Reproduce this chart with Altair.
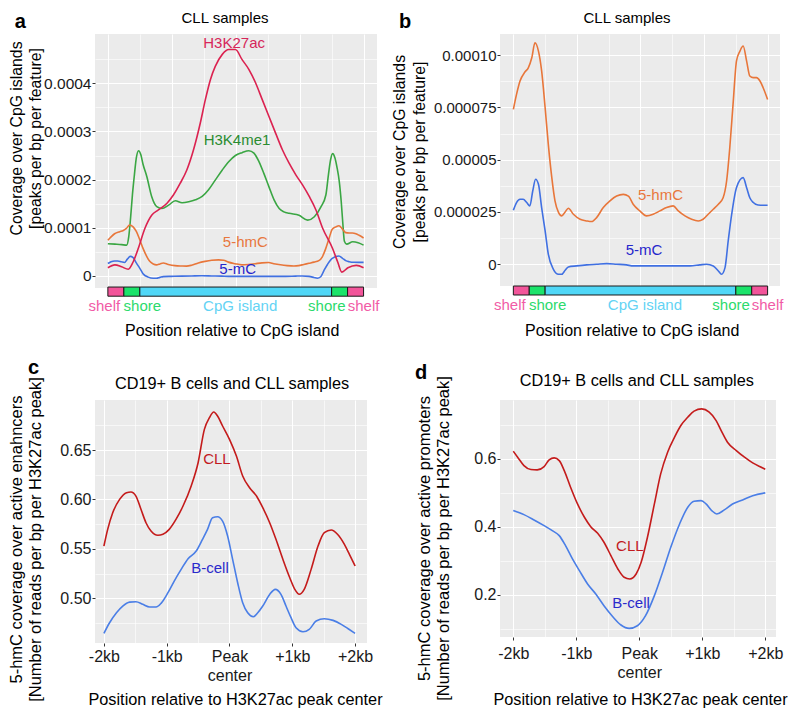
import altair as alt
import pandas as pd

FONT = "Liberation Sans"

# ---------------------------------------------------------------- data
# Panels a/b: position across the CpG-island feature
# (0-0.5 shelf | 0.5-1 shore | 1-7 CpG island | 7-7.5 shore | 7.5-8 shelf)
h3k27ac_pos = [0.00, 0.22, 0.43, 0.64, 0.79, 0.95, 1.16, 1.37, 1.58, 1.85,
               2.05, 2.26, 2.47, 2.68, 2.89, 3.05, 3.21, 3.36, 3.58, 3.78,
               3.99, 4.20, 4.41, 4.62, 4.83, 5.04, 5.25, 5.46, 5.67, 5.88,
               6.09, 6.30, 6.51, 6.72, 7.03, 7.19, 7.32, 7.51, 7.77, 8.00]
h3k27ac_cov = [0.17e-4, 0.23e-4, 0.19e-4, 0.14e-4, 0.29e-4, 0.57e-4, 0.99e-4, 1.26e-4, 1.37e-4, 1.51e-4,
               1.68e-4, 1.92e-4, 2.20e-4, 2.62e-4, 3.17e-4, 3.66e-4, 4.08e-4, 4.35e-4, 4.60e-4, 4.70e-4,
               4.70e-4, 4.49e-4, 4.29e-4, 4.01e-4, 3.66e-4, 3.31e-4, 2.96e-4, 2.62e-4, 2.34e-4, 2.10e-4,
               1.89e-4, 1.65e-4, 1.37e-4, 0.99e-4, 0.57e-4, 0.29e-4, 0.08e-4, 0.17e-4, 0.22e-4, 0.17e-4]

h3k4me1_pos = [0.00, 0.22, 0.43, 0.59, 0.65, 0.71, 0.77, 0.83, 0.89, 0.96,
               1.03, 1.10, 1.22, 1.37, 1.53, 1.69, 1.90, 2.11, 2.32, 2.53,
               2.74, 2.95, 3.15, 3.36, 3.58, 3.78, 3.99, 4.20, 4.41, 4.57,
               4.73, 4.88, 5.04, 5.20, 5.36, 5.51, 5.67, 5.98, 6.25, 6.46,
               6.67, 6.82, 6.90, 6.97, 7.03, 7.10, 7.17, 7.24, 7.30, 7.35,
               7.40, 7.47, 7.66, 7.83, 8.00]
h3k4me1_cov = [0.67e-4, 0.66e-4, 0.65e-4, 0.64e-4, 0.80e-4, 1.20e-4, 1.70e-4, 2.10e-4, 2.45e-4, 2.60e-4,
               2.52e-4, 2.32e-4, 2.06e-4, 1.65e-4, 1.44e-4, 1.40e-4, 1.47e-4, 1.56e-4, 1.52e-4, 1.54e-4,
               1.58e-4, 1.65e-4, 1.79e-4, 1.99e-4, 2.20e-4, 2.37e-4, 2.50e-4, 2.56e-4, 2.60e-4, 2.55e-4,
               2.37e-4, 2.13e-4, 1.85e-4, 1.58e-4, 1.40e-4, 1.33e-4, 1.30e-4, 1.26e-4, 1.16e-4, 1.23e-4,
               1.44e-4, 1.68e-4, 2.10e-4, 2.42e-4, 2.54e-4, 2.46e-4, 2.25e-4, 1.96e-4, 1.55e-4, 1.10e-4,
               0.72e-4, 0.66e-4, 0.71e-4, 0.69e-4, 0.64e-4]

hmc_pos = [0.00, 0.10, 0.21, 0.37, 0.47, 0.58, 0.68, 0.79, 0.89, 1.00,
           1.10, 1.21, 1.31, 1.42, 1.52, 1.63, 1.73, 1.89, 2.10, 2.31,
           2.46, 2.62, 2.83, 3.04, 3.25, 3.46, 3.62, 3.77, 3.98, 4.19,
           4.40, 4.61, 4.82, 5.03, 5.19, 5.40, 5.61, 5.82, 5.97, 6.13,
           6.29, 6.45, 6.60, 6.71, 6.81, 6.92, 7.02, 7.13, 7.23, 7.34,
           7.44, 7.55, 7.65, 7.76, 7.86, 8.00]
hmc_cov = [7.40e-5, 8.12e-5, 8.76e-5, 9.20e-5, 9.39e-5, 9.87e-5, 10.59e-5, 10.19e-5, 9.24e-5, 7.48e-5,
           5.73e-5, 4.14e-5, 3.03e-5, 2.48e-5, 2.31e-5, 2.50e-5, 2.68e-5, 2.39e-5, 2.15e-5, 2.07e-5,
           2.04e-5, 2.23e-5, 2.71e-5, 3.03e-5, 3.26e-5, 3.34e-5, 3.26e-5, 2.87e-5, 2.55e-5, 2.31e-5,
           2.39e-5, 2.55e-5, 2.71e-5, 2.79e-5, 2.55e-5, 2.31e-5, 2.15e-5, 2.07e-5, 2.15e-5, 2.39e-5,
           2.63e-5, 2.87e-5, 3.18e-5, 3.98e-5, 5.57e-5, 7.80e-5, 9.71e-5, 10.19e-5, 10.43e-5, 9.71e-5,
           9.00e-5, 8.92e-5, 8.92e-5, 8.76e-5, 8.44e-5, 7.88e-5]

mc_pos = [0.00, 0.10, 0.21, 0.31, 0.42, 0.52, 0.61, 0.70, 0.79, 0.89,
          1.00, 1.10, 1.26, 1.42, 1.52, 1.63, 1.73, 1.99, 2.31, 2.62,
          2.94, 3.25, 3.56, 3.77, 4.30, 4.82, 5.24, 5.56, 5.87, 6.08,
          6.29, 6.45, 6.55, 6.66, 6.76, 6.87, 7.02, 7.23, 7.34, 7.44,
          7.55, 7.70, 7.86, 8.00]
mc_cov = [2.58e-5, 2.95e-5, 3.11e-5, 3.11e-5, 2.95e-5, 2.79e-5, 3.50e-5, 4.06e-5, 3.82e-5, 2.71e-5,
          1.59e-5, 0.48e-5, -0.24e-5, -0.48e-5, -0.48e-5, -0.29e-5, -0.13e-5, -0.08e-5, -0.03e-5, 0.00,
          0.03e-5, 0.00, -0.03e-5, -0.08e-5, -0.08e-5, -0.08e-5, -0.08e-5, -0.08e-5, -0.03e-5, 0.00,
          -0.08e-5, -0.32e-5, -0.48e-5, -0.16e-5, 1.11e-5, 2.39e-5, 3.66e-5, 4.14e-5, 3.66e-5, 3.18e-5,
          2.95e-5, 2.83e-5, 2.82e-5, 2.82e-5]

region_kind = ["shelf", "shore", "CpG island", "shore", "shelf"]
region_start = [0.0, 0.5, 1.0, 7.0, 7.5]
region_end = [0.5, 1.0, 7.0, 7.5, 8.0]
region_label_pos = [-0.11, 1.08, 4.14, 6.85, 8.0]

# Panels c/d: position relative to H3K27ac peak centre (kb)
c_cll_pos = [-2.00, -1.94, -1.86, -1.75, -1.64, -1.57, -1.49, -1.41, -1.33, -1.25,
             -1.14, -1.06, -0.96, -0.85, -0.74, -0.61, -0.50, -0.40, -0.32, -0.25,
             -0.19, -0.11, 0.00, 0.11, 0.21, 0.32, 0.43, 0.53, 0.64, 0.74,
             0.85, 0.96, 1.04, 1.11, 1.19, 1.30, 1.41, 1.51, 1.62, 1.72,
             1.83, 1.91, 2.00]
c_cll_cov = [0.5528, 0.5697, 0.5865, 0.6000, 0.6068, 0.6075, 0.6034, 0.5900, 0.5764, 0.5680,
             0.5637, 0.5647, 0.5697, 0.5800, 0.5933, 0.6136, 0.6371, 0.6709, 0.6827, 0.6885,
             0.6844, 0.6743, 0.6608, 0.6439, 0.6237, 0.6118, 0.6034, 0.5916, 0.5764, 0.5596,
             0.5394, 0.5207, 0.5090, 0.5040, 0.5090, 0.5292, 0.5528, 0.5663, 0.5690, 0.5647,
             0.5545, 0.5444, 0.5326]
c_bcell_pos = [-2.00, -1.91, -1.80, -1.70, -1.59, -1.49, -1.38, -1.27, -1.17, -1.09,
               -0.98, -0.88, -0.77, -0.66, -0.53, -0.43, -0.35, -0.27, -0.19, -0.11,
               -0.03, 0.05, 0.13, 0.21, 0.29, 0.38, 0.45, 0.53, 0.64, 0.73,
               0.82, 0.90, 0.98, 1.06, 1.17, 1.27, 1.38, 1.51, 1.65, 1.78,
               1.89, 2.00]
c_bcell_cov = [0.4645, 0.4752, 0.4853, 0.4921, 0.4961, 0.4965, 0.4938, 0.4911, 0.4911, 0.4948,
               0.5056, 0.5174, 0.5292, 0.5400, 0.5478, 0.5596, 0.5697, 0.5815, 0.5825, 0.5781,
               0.5630, 0.5394, 0.5157, 0.4955, 0.4853, 0.4813, 0.4853, 0.4921, 0.5039, 0.5090,
               0.5039, 0.4921, 0.4803, 0.4701, 0.4661, 0.4685, 0.4769, 0.4793, 0.4776, 0.4736,
               0.4691, 0.4645]

d_cll_pos = [-2.00, -1.93, -1.83, -1.72, -1.62, -1.51, -1.43, -1.35, -1.27, -1.19,
             -1.09, -0.98, -0.87, -0.77, -0.66, -0.56, -0.45, -0.34, -0.24, -0.15,
             -0.05, 0.03, 0.13, 0.24, 0.34, 0.45, 0.56, 0.66, 0.77, 0.87,
             0.99, 1.11, 1.22, 1.30, 1.40, 1.54, 1.67, 1.80, 1.91, 2.00]
d_cll_cov = [0.6226, 0.6050, 0.5803, 0.5686, 0.5676, 0.5774, 0.5970, 0.6029, 0.5950, 0.5657,
             0.5167, 0.4676, 0.4285, 0.4009, 0.3814, 0.3550, 0.3157, 0.2765, 0.2520, 0.2471,
             0.2618, 0.2961, 0.3697, 0.4676, 0.5559, 0.6197, 0.6638, 0.6980, 0.7226, 0.7403,
             0.7471, 0.7374, 0.7127, 0.6833, 0.6491, 0.6245, 0.6050, 0.5882, 0.5774, 0.5697]
d_bcell_pos = [-2.00, -1.83, -1.67, -1.51, -1.38, -1.27, -1.17, -1.06, -0.95, -0.82,
               -0.69, -0.56, -0.42, -0.29, -0.16, -0.03, 0.10, 0.24, 0.37, 0.50,
               0.64, 0.77, 0.87, 0.98, 1.06, 1.15, 1.23, 1.35, 1.48, 1.64,
               1.80, 2.00]
d_bcell_cov = [0.4480, 0.4362, 0.4206, 0.4039, 0.3892, 0.3745, 0.3450, 0.3059, 0.2715, 0.2324,
               0.2029, 0.1686, 0.1362, 0.1118, 0.1019, 0.1097, 0.1392, 0.1980, 0.2667, 0.3403,
               0.4088, 0.4579, 0.4756, 0.4774, 0.4676, 0.4480, 0.4382, 0.4500, 0.4676, 0.4794,
               0.4920, 0.5000]

# tick values / labels
a_y_major = [0.0, 1e-4, 2e-4, 3e-4, 4e-4]
a_y_labels = ["0", "0.0001", "0.0002", "0.0003", "0.0004"]
a_y_minor = [0.5e-4, 1.5e-4, 2.5e-4, 3.5e-4, 4.5e-4]
b_y_major = [0.0, 2.5e-5, 5e-5, 7.5e-5, 1e-4]
b_y_labels = ["0", "0.000025", "0.00005", "0.000075", "0.00010"]
b_y_minor = [1.25e-5, 3.75e-5, 6.25e-5, 8.75e-5]
cpg_x_major = [0, 2, 4, 6, 8]
cpg_x_minor = [1, 3, 5, 7]
c_y_major = [0.50, 0.55, 0.60, 0.65]
c_y_labels = ["0.50", "0.55", "0.60", "0.65"]
c_y_minor = [0.475, 0.525, 0.575, 0.625, 0.675]
d_y_major = [0.2, 0.4, 0.6]
d_y_labels = ["0.2", "0.4", "0.6"]
d_y_minor = [0.1, 0.3, 0.5, 0.7]
kb_major = [-2, -1, 0, 1, 2]
kb_labels = ["-2kb", "-1kb", ["Peak", "center"], "+1kb", "+2kb"]
kb_minor = [-1.5, -0.5, 0.5, 1.5]

# in-plot series labels, panel titles and panel letters (positions in data units)
a_lab_text = ["H3K27ac", "H3K4me1", "5-hmC", "5-mC"]
a_lab_pos = [3.95, 4.04, 4.30, 4.06]
a_lab_val = [4.83e-4, 2.82e-4, 0.71e-4, 0.15e-4]
b_lab_text = ["5-hmC", "5-mC"]
b_lab_pos = [4.63, 4.11]
b_lab_val = [3.31e-5, 0.67e-5]
c_lab_text = ["CLL", "B-cell"]
c_lab_pos = [-0.20, -0.31]
c_lab_val = [0.6406, 0.5311]
d_lab_text = ["CLL", "B-cell"]
d_lab_pos = [-0.15, -0.13]
d_lab_val = [0.3454, 0.1758]
panel_titles = ["CLL samples", "CLL samples",
                "CD19+ B cells and CLL samples", "CD19+ B cells and CLL samples"]
title_pos = [3.665, 3.576, 0.040, -0.040]
title_val = [5.251e-4, 11.533e-5, 0.7122, 0.8142]
letters = ["a", "b", "c", "d"]
letter_pos = [-2.91, -3.60, -3.21, -3.56]
letter_val = [5.148e-4, 11.294e-5, 0.7269, 0.8348]

# ---------------------------------------------------------------- styles
SER_AB = ["H3K27ac", "H3K4me1", "5-hmC", "5-mC"]
LINE_AB = ["#db2250", "#3aa643", "#e8763a", "#4070e2"]
TEXT_AB = ["#d6265a", "#2a8c30", "#e8773d", "#2626cc"]
SER_CD = ["CLL", "B-cell"]
LINE_CD = ["#c41b1b", "#4a7ee6"]
TEXT_CD = ["#c21a1e", "#2a2acc"]
REG_KINDS = ["shelf", "shore", "CpG island"]
REG_FILL = ["#f2559a", "#1be36a", "#50d7f7"]
REG_TEXT = ["#f15ba6", "#2cda6c", "#63d3f4"]
TICK_COL = "#333333"
LAB_COL = "#1a1a1a"


def near(vals, eps):
    return " || ".join(f"abs(datum.value - ({v!r})) < {eps!r}" for v in vals)


def js(lab):
    if isinstance(lab, (list, tuple)):
        return "[" + ",".join(js(s) for s in lab) + "]"
    return "'" + lab + "'"


def label_expr(vals, labels, eps):
    expr = "''"
    for v, lab in reversed(list(zip(vals, labels))):
        expr = f"(abs(datum.value - ({v!r})) < {eps!r}) ? {js(lab)} : {expr}"
    return expr


def cond(test, a, b):
    return {"condition": {"test": test, "value": a}, "value": b}


def y_axis(major, labels, minor, eps, title, tx, ty, lab_size, title_size, lh):
    t = near(major, eps)
    return alt.Axis(
        values=sorted(major + minor), labelExpr=label_expr(major, labels, eps),
        domain=False, tickSize=3, tickWidth=1, tickColor=cond(t, TICK_COL, "transparent"),
        grid=True, gridColor="#ffffff", gridWidth=cond(t, 1.1, 0.6),
        labelFont=FONT, labelFontSize=lab_size, labelColor=LAB_COL, labelPadding=1,
        labelOverlap=False, labelFlush=False,
        title=title, titleFont=FONT, titleFontSize=title_size, titleFontWeight="normal",
        titleColor="#000000", titleAngle=270, titleX=tx, titleY=ty, titleAlign="center",
        titleBaseline="alphabetic", titleLineHeight=lh)


def x_axis_cpg(title, tx, ty):
    t = near(cpg_x_major, 1e-6)
    return alt.Axis(
        values=sorted(cpg_x_major + cpg_x_minor), labels=False, ticks=False, domain=False,
        grid=True, gridColor="#ffffff", gridWidth=cond(t, 1.1, 0.6),
        title=title, titleFont=FONT, titleFontSize=16, titleFontWeight="normal",
        titleColor="#000000", titleX=tx, titleY=ty, titleAlign="center", titleBaseline="alphabetic")


def x_axis_kb(title, tx, ty, pad):
    t = near(kb_major, 1e-6)
    return alt.Axis(
        values=sorted(kb_major + kb_minor), labelExpr=label_expr(kb_major, kb_labels, 1e-6),
        domain=False, tickSize=3, tickWidth=1, tickColor=cond(t, TICK_COL, "transparent"),
        grid=True, gridColor="#ffffff", gridWidth=cond(t, 1.1, 0.6),
        labelFont=FONT, labelFontSize=16, labelColor=LAB_COL, labelPadding=pad,
        labelLineHeight=19, labelOverlap=False, labelFlush=False,
        title=title, titleFont=FONT, titleFontSize=16.3, titleFontWeight="normal",
        titleColor="#000000", titleX=tx, titleY=ty, titleAlign="center", titleBaseline="alphabetic")


def long_df(series):
    rows = []
    for name, xs, ys in series:
        for x, y in zip(xs, ys):
            rows.append({"series": name, "pos": x, "val": y})
    return pd.DataFrame(rows)


def panel(idx, series, ser_names, line_cols, text_cols, lab, xdom, ydom, xaxis, yaxis,
          width, height, title_size, bar=None):
    df = long_df(series)
    xs = alt.Scale(domain=xdom, nice=False, zero=False)
    ys = alt.Scale(domain=ydom, nice=False, zero=False)
    lines = alt.Chart(df).mark_line(strokeWidth=1.6, interpolate="monotone").encode(
        x=alt.X("pos:Q", scale=xs, axis=xaxis),
        y=alt.Y("val:Q", scale=ys, axis=yaxis),
        color=alt.Color("series:N", scale=alt.Scale(domain=ser_names, range=line_cols), legend=None),
    )
    lab_df = pd.DataFrame({"series": lab[0], "pos": lab[1], "val": lab[2]})
    labels = alt.Chart(lab_df).mark_text(font=FONT, fontSize=15, align="center", baseline="middle").encode(
        x=alt.X("pos:Q", scale=xs, axis=xaxis), y=alt.Y("val:Q", scale=ys, axis=yaxis), text="series:N",
        color=alt.Color("series:N", scale=alt.Scale(domain=ser_names, range=text_cols), legend=None),
    )
    let_df = pd.DataFrame({"letter": [letters[idx]], "pos": [letter_pos[idx]], "val": [letter_val[idx]]})
    letter = alt.Chart(let_df).mark_text(font=FONT, fontSize=20, fontWeight="bold", color="#000000",
                                          align="left", baseline="alphabetic").encode(
        x=alt.X("pos:Q", scale=xs, axis=xaxis), y=alt.Y("val:Q", scale=ys, axis=yaxis), text="letter:N")
    tit_df = pd.DataFrame({"title": [panel_titles[idx]], "pos": [title_pos[idx]], "val": [title_val[idx]]})
    title = alt.Chart(tit_df).mark_text(font=FONT, fontSize=title_size, color="#000000",
                                         align="center", baseline="alphabetic").encode(
        x=alt.X("pos:Q", scale=xs, axis=xaxis), y=alt.Y("val:Q", scale=ys, axis=yaxis), text="title:N")
    layers = [lines, labels, letter, title]
    if bar is not None:
        bar_hi, bar_lo, text_y = bar
        reg_df = pd.DataFrame({"region": region_kind, "start": region_start,
                               "end": region_end, "lpos": region_label_pos})
        rects = alt.Chart(reg_df).mark_rect(stroke="#1a1a1a", strokeWidth=1).encode(
            x=alt.X("start:Q", scale=xs, axis=xaxis), x2="end:Q",
            y=alt.YDatum(bar_hi, type="quantitative", scale=ys, axis=yaxis), y2=alt.Y2Datum(bar_lo),
            fill=alt.Fill("region:N", scale=alt.Scale(domain=REG_KINDS, range=REG_FILL), legend=None),
        )
        reg_text = alt.Chart(reg_df).mark_text(font=FONT, fontSize=15, align="center", baseline="middle").encode(
            x=alt.X("lpos:Q", scale=xs, axis=xaxis),
            y=alt.YDatum(text_y, type="quantitative", scale=ys, axis=yaxis),
            text="region:N",
            color=alt.Color("region:N", scale=alt.Scale(domain=REG_KINDS, range=REG_TEXT), legend=None),
        )
        layers += [rects, reg_text]
    return alt.layer(*layers).resolve_scale(color="independent").properties(width=width, height=height)


YT_AB = ["Coverage over CpG islands", "[peaks per bp per feature]"]

pa = panel(0,
    [("H3K4me1", h3k4me1_pos, h3k4me1_cov), ("5-hmC", hmc_pos, hmc_cov),
     ("5-mC", mc_pos, mc_cov), ("H3K27ac", h3k27ac_pos, h3k27ac_cov)],
    SER_AB, LINE_AB, TEXT_AB, (a_lab_text, a_lab_pos, a_lab_val),
    [-0.4026, 8.42], [-0.25e-4, 5.023e-4],
    x_axis_cpg("Position relative to CpG island", 136.7, 47.8),
    y_axis(a_y_major, a_y_labels, a_y_minor, 1e-9, YT_AB, -74, 104, 15.5, 15.8, 19.5),
    282, 254, 15,
    bar=(-0.23e-4, -0.42e-4, -0.624e-4))

pb = panel(1,
    [("5-hmC", hmc_pos, hmc_cov), ("5-mC", mc_pos, mc_cov)],
    SER_AB, LINE_AB, TEXT_AB, (b_lab_text, b_lab_pos, b_lab_val),
    [-0.42, 8.39], [-1.04e-5, 11.007e-5],
    x_axis_cpg("Position relative to CpG island", 131.7, 49),
    y_axis(b_y_major, b_y_labels, b_y_minor, 1e-10, YT_AB, -95.5, 117.5, 15, 15.8, 19.5),
    280, 252, 15,
    bar=(-1.04e-5, -1.47e-5, -1.95e-5))

pc = panel(2,
    [("B-cell", c_bcell_pos, c_bcell_cov), ("CLL", c_cll_pos, c_cll_cov)],
    SER_CD, LINE_CD, TEXT_CD, (c_lab_text, c_lab_pos, c_lab_val),
    [-2.142, 2.19], [0.4547, 0.7006],
    x_axis_kb("Position relative to H3K27ac peak center", 140, 61.5, 2.5),
    y_axis(c_y_major, c_y_labels, c_y_minor, 1e-6,
           ["5-hmC coverage over active enahncers", "[Number of reads per bp per H3K27ac peak]"],
           -73.5, 139, 16, 16.5, 19),
    272, 243, 16.3)

pd_ = panel(3,
    [("B-cell", d_bcell_pos, d_bcell_cov), ("CLL", d_cll_pos, d_cll_cov)],
    SER_CD, LINE_CD, TEXT_CD, (d_lab_text, d_lab_pos, d_lab_val),
    [-2.21, 2.17], [0.0765, 0.7731],
    x_axis_kb("Position relative to H3K27ac peak center", 140, 67.5, 5),
    y_axis(d_y_major, d_y_labels, d_y_minor, 1e-6,
           ["5-hmC coverage over active promoters", "[Number of reads per bp per H3K27ac peak]"],
           -70.5, 138, 16, 16.5, 19),
    276, 237, 16.3)

row1 = alt.hconcat(pa, pb, spacing=123, bounds="flush")
row2 = alt.hconcat(pc, pd_, spacing=133, bounds="flush")

chart = alt.vconcat(row1, row2, spacing=19).properties(
    padding={"left": 0, "top": 2, "right": 0, "bottom": 0}
).configure_view(fill="#ebebeb", stroke=None)

chart.save("out.html", embed_options={"renderer": "svg", "actions": False})
